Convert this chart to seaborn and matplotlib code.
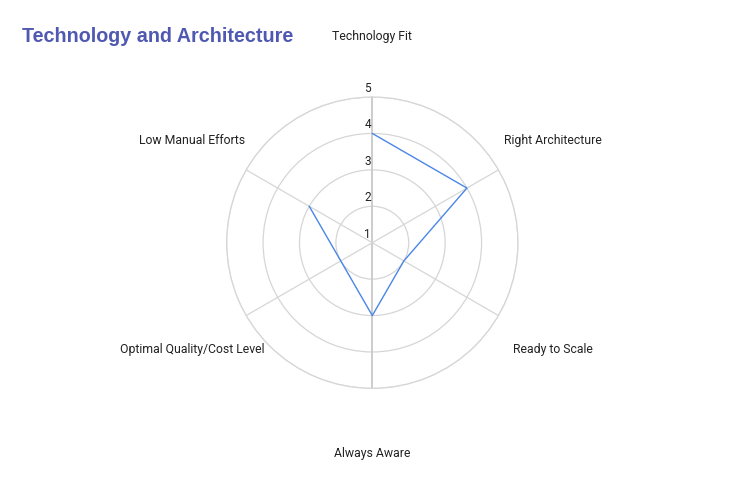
import numpy as np
import pandas as pd
import matplotlib
matplotlib.use("Agg")
import matplotlib.pyplot as plt
import seaborn as sns

# data
categories = ["Technology Fit", "Right Architecture", "Ready to Scale",
              "Always Aware", "Optimal Quality/Cost Level", "Low Manual Efforts"]
scores = [4, 4, 2, 3, 2, 3]
r_ticks = [1, 2, 3, 4, 5]
title = "Technology and Architecture"

sns.set_theme(style="white")
plt.rcParams["font.family"] = ["Roboto", "DejaVu Sans"]

n = len(categories)
angles = np.arange(n) * 2 * np.pi / n

df = pd.DataFrame({"angle": list(angles) + [angles[0]],
                   "score": scores + [scores[0]],
                   "order": range(n + 1)})

fig = plt.figure(figsize=(7.45, 4.86), dpi=100)
ax = fig.add_axes([0.3042, 0.2008, 0.3911, 0.5996], projection="polar")
ax.set_theta_zero_location("N")
ax.set_theta_direction(-1)

sns.lineplot(data=df, x="angle", y="score", sort=False, ax=ax,
             color="#4a86e8", linewidth=1.0, legend=False)

ax.set_ylim(r_ticks[0], r_ticks[-1])
ax.set_yticks(r_ticks[1:])
ax.set_yticklabels([])
ax.set_xticks(angles)
ax.set_xticklabels([])
ax.yaxis.grid(True, color="#d6d6d6", linewidth=0.9)
ax.xaxis.grid(False)
ax.spines["polar"].set_color("#d6d6d6")
ax.spines["polar"].set_linewidth(0.9)
ax.set_xlabel("")
ax.set_ylabel("")

# spokes
for i, a in enumerate(angles):
    if i % 3 == 0:
        ax.plot([a, a], [r_ticks[0], r_ticks[-1]], color="#c8c8c8", lw=1.3, zorder=1)
    else:
        ax.plot([a, a], [r_ticks[0], r_ticks[-1]], color="#d6d6d6", lw=0.9, zorder=1)

# radial tick labels along vertical axis
for v in r_ticks:
    ax.annotate(str(v), xy=(0, v), xytext=(-1, 1.5), textcoords="offset points",
                ha="right", va="bottom", fontsize=8.5, color="#222222",
                annotation_clip=False)

# category labels
for a, lab in zip(angles, categories):
    ax.annotate(lab, xy=(a, 6.72), xytext=(0, -1.6), textcoords="offset points",
                ha="center", va="center", fontsize=8.8, color="#222222",
                annotation_clip=False)

fig.text(22 / 745, 1 - 36 / 486, title, ha="left", va="center",
         fontsize=14.2, fontweight="bold", color="#5059b1",
         family=["Liberation Sans", "DejaVu Sans"])

fig.savefig("out.png", dpi=100, facecolor="white")
